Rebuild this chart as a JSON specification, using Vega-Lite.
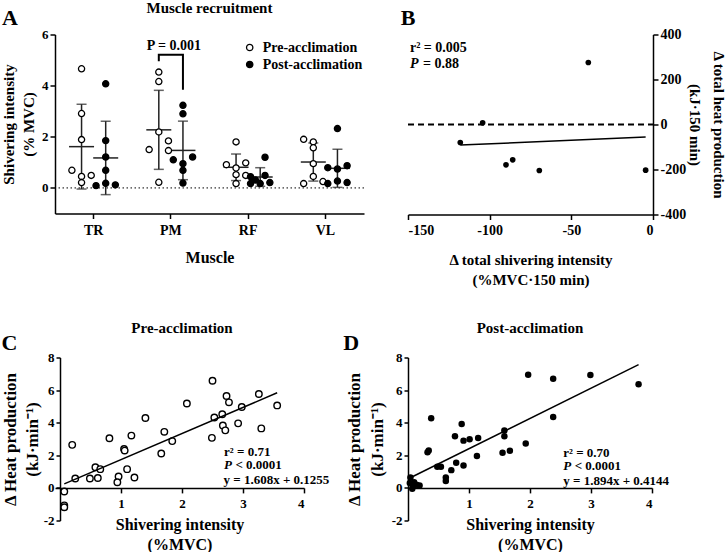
{
  "$schema": "https://vega.github.io/schema/vega-lite/v6.json",
  "background": "white",
  "padding": {"left": 55, "top": 34.5, "right": 670, "bottom": 517.5},
  "autosize": {"type": "none"},
  "config": {
    "font": "Liberation Serif",
    "view": {"stroke": null},
    "axis": {
      "labelFont": "Liberation Serif", "labelFontWeight": "bold", "labelFontSize": 14, "labelColor": "black",
      "titleFont": "Liberation Serif", "titleFontWeight": "bold", "titleFontSize": 16, "titleColor": "black",
      "domainColor": "black", "domainWidth": 1.5, "tickColor": "black", "tickWidth": 1.5, "tickSize": 5, "grid": false, "labelPadding": 2
    },
    "text": {"font": "Liberation Serif", "fontWeight": "bold", "fontSize": 13, "color": "black"}
  },
  "datasets": {
    "musc": [
      {"muscle": "TR", "group": "Pre-acclimation", "slot": "Pre-acclimation", "v": 4.66},
      {"muscle": "TR", "group": "Pre-acclimation", "slot": "Pre-acclimation", "v": 2.91},
      {"muscle": "TR", "group": "Pre-acclimation", "slot": "Pre-acclimation", "v": 1.89},
      {"muscle": "TR", "group": "Pre-acclimation", "slot": "Pre L2", "v": 0.69},
      {"muscle": "TR", "group": "Pre-acclimation", "slot": "Pre-acclimation", "v": 0.45},
      {"muscle": "TR", "group": "Pre-acclimation", "slot": "Pre R2", "v": 0.49},
      {"muscle": "TR", "group": "Pre-acclimation", "slot": "Pre-acclimation", "v": 0.21},
      {"muscle": "TR", "group": "Post-acclimation", "slot": "Post-acclimation", "v": 4.07},
      {"muscle": "TR", "group": "Post-acclimation", "slot": "Post-acclimation", "v": 1.85},
      {"muscle": "TR", "group": "Post-acclimation", "slot": "Post-acclimation", "v": 1.21},
      {"muscle": "TR", "group": "Post-acclimation", "slot": "Post-acclimation", "v": 0.69},
      {"muscle": "TR", "group": "Post-acclimation", "slot": "Post-acclimation", "v": 0.18},
      {"muscle": "TR", "group": "Post-acclimation", "slot": "Post L2", "v": 0.09},
      {"muscle": "TR", "group": "Post-acclimation", "slot": "Post R2", "v": 0.12},
      {"muscle": "PM", "group": "Pre-acclimation", "slot": "Pre-acclimation", "v": 4.53},
      {"muscle": "PM", "group": "Pre-acclimation", "slot": "Pre-acclimation", "v": 4.16},
      {"muscle": "PM", "group": "Pre-acclimation", "slot": "Pre-acclimation", "v": 2.19},
      {"muscle": "PM", "group": "Pre-acclimation", "slot": "Pre L2", "v": 1.5},
      {"muscle": "PM", "group": "Pre-acclimation", "slot": "Pre R2", "v": 1.84},
      {"muscle": "PM", "group": "Pre-acclimation", "slot": "Pre R2", "v": 1.46},
      {"muscle": "PM", "group": "Pre-acclimation", "slot": "Pre-acclimation", "v": 0.22},
      {"muscle": "PM", "group": "Post-acclimation", "slot": "Post-acclimation", "v": 3.23},
      {"muscle": "PM", "group": "Post-acclimation", "slot": "Post-acclimation", "v": 2.9},
      {"muscle": "PM", "group": "Post-acclimation", "slot": "Post L2", "v": 1.1},
      {"muscle": "PM", "group": "Post-acclimation", "slot": "Post-acclimation", "v": 0.95},
      {"muscle": "PM", "group": "Post-acclimation", "slot": "Post-acclimation", "v": 0.69},
      {"muscle": "PM", "group": "Post-acclimation", "slot": "Post-acclimation", "v": 0.19},
      {"muscle": "PM", "group": "Post-acclimation", "slot": "Post R2", "v": 1.21},
      {"muscle": "RF", "group": "Pre-acclimation", "slot": "Pre-acclimation", "v": 1.8},
      {"muscle": "RF", "group": "Pre-acclimation", "slot": "Pre L2", "v": 0.91},
      {"muscle": "RF", "group": "Pre-acclimation", "slot": "Pre-acclimation", "v": 0.78},
      {"muscle": "RF", "group": "Pre-acclimation", "slot": "Pre R2", "v": 0.98},
      {"muscle": "RF", "group": "Pre-acclimation", "slot": "Pre-acclimation", "v": 0.52},
      {"muscle": "RF", "group": "Pre-acclimation", "slot": "Pre R2", "v": 0.49},
      {"muscle": "RF", "group": "Pre-acclimation", "slot": "Pre-acclimation", "v": 0.17},
      {"muscle": "RF", "group": "Post-acclimation", "slot": "Post R1", "v": 1.2},
      {"muscle": "RF", "group": "Post-acclimation", "slot": "Post L2", "v": 0.44},
      {"muscle": "RF", "group": "Post-acclimation", "slot": "Post L1", "v": 0.31},
      {"muscle": "RF", "group": "Post-acclimation", "slot": "Post R1", "v": 0.49},
      {"muscle": "RF", "group": "Post-acclimation", "slot": "Post L2", "v": 0.17},
      {"muscle": "RF", "group": "Post-acclimation", "slot": "Post-acclimation", "v": 0.17},
      {"muscle": "RF", "group": "Post-acclimation", "slot": "Post R2", "v": 0.21},
      {"muscle": "VL", "group": "Pre-acclimation", "slot": "Pre L2", "v": 1.9},
      {"muscle": "VL", "group": "Pre-acclimation", "slot": "Pre-acclimation", "v": 1.8},
      {"muscle": "VL", "group": "Pre-acclimation", "slot": "Pre-acclimation", "v": 1.57},
      {"muscle": "VL", "group": "Pre-acclimation", "slot": "Pre-acclimation", "v": 0.95},
      {"muscle": "VL", "group": "Pre-acclimation", "slot": "Pre-acclimation", "v": 0.45},
      {"muscle": "VL", "group": "Pre-acclimation", "slot": "Pre L2", "v": 0.17},
      {"muscle": "VL", "group": "Pre-acclimation", "slot": "Pre R2", "v": 0.25},
      {"muscle": "VL", "group": "Post-acclimation", "slot": "Post-acclimation", "v": 2.32},
      {"muscle": "VL", "group": "Post-acclimation", "slot": "Post L2", "v": 0.79},
      {"muscle": "VL", "group": "Post-acclimation", "slot": "Post-acclimation", "v": 0.74},
      {"muscle": "VL", "group": "Post-acclimation", "slot": "Post R2", "v": 0.87},
      {"muscle": "VL", "group": "Post-acclimation", "slot": "Post-acclimation", "v": 0.27},
      {"muscle": "VL", "group": "Post-acclimation", "slot": "Post L2", "v": 0.17},
      {"muscle": "VL", "group": "Post-acclimation", "slot": "Post R2", "v": 0.21}
    ],
    "bd": [
      {"dx": -39.6, "dy": 275.6},
      {"dx": -104.3, "dy": 7.4},
      {"dx": -118, "dy": -80},
      {"dx": -90, "dy": -179.3},
      {"dx": -85.9, "dy": -157},
      {"dx": -69.6, "dy": -204.4},
      {"dx": -4.5, "dy": -203}
    ],
    "cd": [
      {"sx": 0.07, "hp": -0.22}, {"sx": 0.07, "hp": -1.07}, {"sx": 0.07, "hp": -1.19},
      {"sx": 0.2, "hp": 2.64}, {"sx": 0.25, "hp": 0.58}, {"sx": 0.49, "hp": 0.58},
      {"sx": 0.58, "hp": 1.27}, {"sx": 0.62, "hp": 0.61}, {"sx": 0.66, "hp": 1.15},
      {"sx": 0.81, "hp": 3.05}, {"sx": 0.96, "hp": 0.7}, {"sx": 0.94, "hp": 0.35},
      {"sx": 1.05, "hp": 2.39}, {"sx": 1.06, "hp": 2.29}, {"sx": 1.1, "hp": 1.15},
      {"sx": 1.17, "hp": 3.21}, {"sx": 1.22, "hp": 0.64}, {"sx": 1.4, "hp": 4.29},
      {"sx": 1.66, "hp": 2.11}, {"sx": 1.71, "hp": 3.44}, {"sx": 1.84, "hp": 2.87},
      {"sx": 2.08, "hp": 5.18}, {"sx": 2.5, "hp": 6.57}, {"sx": 2.49, "hp": 3.07},
      {"sx": 2.53, "hp": 4.32}, {"sx": 2.66, "hp": 4.52}, {"sx": 2.67, "hp": 3.83},
      {"sx": 2.71, "hp": 3.53}, {"sx": 2.73, "hp": 5.64}, {"sx": 2.77, "hp": 5.25},
      {"sx": 2.92, "hp": 3.96}, {"sx": 2.98, "hp": 4.96}, {"sx": 3.26, "hp": 5.76},
      {"sx": 3.3, "hp": 3.65}, {"sx": 3.56, "hp": 5.06}
    ],
    "dd": [
      {"sx": 0.04, "hp": 0.64}, {"sx": 0.03, "hp": 0.3}, {"sx": 0.07, "hp": -0.05},
      {"sx": 0.1, "hp": 0.35}, {"sx": 0.14, "hp": 0.2}, {"sx": 0.19, "hp": 0.15},
      {"sx": 0.08, "hp": 0.1}, {"sx": 0.32, "hp": 2.19}, {"sx": 0.34, "hp": 2.29},
      {"sx": 0.38, "hp": 4.28}, {"sx": 0.48, "hp": 1.3}, {"sx": 0.54, "hp": 1.3},
      {"sx": 0.62, "hp": 0.64}, {"sx": 0.62, "hp": 0.43}, {"sx": 0.71, "hp": 1.09},
      {"sx": 0.77, "hp": 3.17}, {"sx": 0.79, "hp": 1.54}, {"sx": 0.88, "hp": 3.92},
      {"sx": 0.91, "hp": 2.9}, {"sx": 0.91, "hp": 1.38}, {"sx": 1.01, "hp": 2.98},
      {"sx": 1.15, "hp": 3.06}, {"sx": 1.13, "hp": 1.95}, {"sx": 1.55, "hp": 2.16},
      {"sx": 1.58, "hp": 3.52}, {"sx": 1.58, "hp": 3.17}, {"sx": 1.67, "hp": 2.28},
      {"sx": 1.93, "hp": 2.73}, {"sx": 1.97, "hp": 6.94}, {"sx": 2.38, "hp": 6.69},
      {"sx": 2.38, "hp": 4.35}, {"sx": 2.99, "hp": 6.92}, {"sx": 3.78, "hp": 6.36}
    ]
  },
  "concat": [
    {
      "width": 309, "height": 179,
      "layer": [
        {
          "data": {"values": [{"v": 0}]},
          "mark": {"type": "rule", "strokeDash": [1.5, 2.5], "strokeWidth": 1, "color": "black"},
          "encoding": {"y": {"field": "v", "type": "quantitative", "scale": {"domain": [-1, 6], "nice": false}}}
        },
        {
          "data": {"name": "musc"},
          "encoding": {
            "x": {"field": "muscle", "type": "nominal", "title": "Muscle",
              "scale": {"domain": ["TR", "PM", "RF", "VL"], "paddingInner": 0, "paddingOuter": 0},
              "axis": {"labelAngle": 0, "labelPadding": 5, "titlePadding": 12, "titleFontSize": 16}},
            "xOffset": {"field": "group", "type": "nominal",
              "scale": {"domain": ["e1", "e2", "e3", "Pre L2", "Pre L1", "Pre-acclimation", "Pre R1", "Pre R2", "Post L2", "Post L1", "Post-acclimation", "Post R1", "Post R2", "e4", "e5", "e6"], "paddingInner": 0, "paddingOuter": 0}},
            "y": {"field": "v", "type": "quantitative", "title": ["Shivering intensity", "(% MVC)"],
              "scale": {"domain": [-1, 6], "nice": false},
              "axis": {"values": [0, 2, 4, 6], "labelFontSize": 13, "titleFontSize": 15, "titleLineHeight": 20, "titlePadding": 5.5}}
          },
          "layer": [
            {"mark": {"type": "errorbar", "extent": "stdev", "thickness": 1.5, "color": "#222222", "ticks": {"size": 10}}},
            {"mark": {"type": "tick", "size": 25, "thickness": 1.5, "color": "#222222"},
             "encoding": {"y": {"aggregate": "mean", "field": "v", "type": "quantitative"}}},
            {"mark": {"type": "circle", "size": 38, "stroke": "black", "strokeWidth": 1.3, "opacity": 1},
             "encoding": {
               "xOffset": {"field": "slot", "type": "nominal"},
               "fill": {"field": "group", "type": "nominal",
                 "scale": {"domain": ["Pre-acclimation", "Post-acclimation"], "range": ["white", "black"]},
                 "legend": {"orient": "none", "legendX": 187.7, "legendY": 6, "title": null, "padding": 0,
                   "labelFont": "Liberation Serif", "labelFontWeight": "bold", "labelFontSize": 14, "labelColor": "black",
                   "symbolType": "circle", "symbolSize": 40, "symbolStrokeColor": "black", "symbolStrokeWidth": 1.3,
                   "rowPadding": 3, "labelOffset": 6}}
             }},
            {"data": {"values": [
                {"muscle": "PM", "group": "Pre-acclimation", "v": 4.95, "o": 1},
                {"muscle": "PM", "group": "Pre-acclimation", "v": 5.21, "o": 2},
                {"muscle": "PM", "group": "Post-acclimation", "v": 5.21, "o": 3},
                {"muscle": "PM", "group": "Post-acclimation", "v": 3.84, "o": 4}
              ]},
             "mark": {"type": "line", "strokeWidth": 2, "color": "black", "strokeJoin": "miter"},
             "encoding": {"order": {"field": "o", "type": "quantitative"}}}
          ]
        },
        {
          "data": {"values": [{"px": 0.5, "v": 6.83, "t": "Muscle recruitment"}]},
          "mark": {"type": "text", "align": "center", "baseline": "alphabetic", "fontSize": 15, "fontWeight": "bold"},
          "encoding": {
            "x": {"field": "px", "type": "quantitative", "scale": {"domain": [0, 1]}, "axis": null},
            "y": {"field": "v", "type": "quantitative", "scale": {"domain": [-1, 6], "nice": false}},
            "text": {"field": "t"}
          }
        },
        {
          "data": {"values": [{"px": 0.385, "v": 5.39, "t": "P = 0.001"}]},
          "mark": {"type": "text", "align": "center", "baseline": "alphabetic", "fontSize": 14, "fontWeight": "bold"},
          "encoding": {
            "x": {"field": "px", "type": "quantitative", "scale": {"domain": [0, 1]}, "axis": null},
            "y": {"field": "v", "type": "quantitative", "scale": {"domain": [-1, 6], "nice": false}},
            "text": {"field": "t"}
          }
        },
        {
          "data": {"values": [{"px": -0.146, "v": 6.37, "t": "A"}]},
          "mark": {"type": "text", "align": "center", "baseline": "alphabetic", "fontSize": 22, "fontWeight": "bold"},
          "encoding": {
            "x": {"field": "px", "type": "quantitative", "scale": {"domain": [0, 1]}, "axis": null},
            "y": {"field": "v", "type": "quantitative", "scale": {"domain": [-1, 6], "nice": false}},
            "text": {"field": "t"}
          }
        }
      ],
      "resolve": {"scale": {"x": "independent"}}
    },
    {
      "width": 245, "height": 180,
      "encoding": {
        "x": {"field": "dx", "type": "quantitative", "title": ["Δ total shivering intensity", "(%MVC·150 min)"],
          "scale": {"domain": [-150, 0], "nice": false},
          "axis": {"values": [-150, -100, -50, 0], "labelExpr": "'' + datum.value", "titleFontSize": 15, "titleLineHeight": 20, "labelPadding": 4, "titlePadding": 15}},
        "y": {"field": "dy", "type": "quantitative", "title": ["Δ total heat production", "(kJ·150 min)"],
          "scale": {"domain": [-400, 400], "nice": false},
          "axis": {"orient": "right", "values": [-400, -200, 0, 200, 400], "labelExpr": "'' + datum.value", "titleFontSize": 15, "titleLineHeight": 24, "titlePadding": 1}}
      },
      "layer": [
        {
          "data": {"values": [{"dx": -150, "dy": 0}, {"dx": 0, "dy": 0}]},
          "mark": {"type": "line", "strokeDash": [6, 4], "strokeWidth": 2, "color": "black"}
        },
        {
          "data": {"name": "bd"},
          "mark": {"type": "circle", "size": 32, "color": "black", "opacity": 1}
        },
        {
          "data": {"name": "bd"},
          "transform": [{"regression": "dy", "on": "dx"}],
          "mark": {"type": "line", "strokeWidth": 1.5, "color": "black"}
        },
        {
          "data": {"values": [{"dx": -148.8, "dy": 320.9, "t": "r² = 0.005"}, {"dx": -140.8, "dy": 249.8, "t": "=  0.88"}]},
          "mark": {"type": "text", "align": "left", "baseline": "alphabetic", "fontSize": 14, "fontWeight": "bold"},
          "encoding": {"text": {"field": "t"}}
        },
        {
          "data": {"values": [{"dx": -148.8, "dy": 249.8, "t": "P"}]},
          "mark": {"type": "text", "align": "left", "baseline": "alphabetic", "fontSize": 14, "fontWeight": "bold", "fontStyle": "italic"},
          "encoding": {"text": {"field": "t"}}
        },
        {
          "data": {"values": [{"dx": -150, "dy": 442, "t": "B"}]},
          "mark": {"type": "text", "align": "center", "baseline": "alphabetic", "fontSize": 22, "fontWeight": "bold"},
          "encoding": {"text": {"field": "t"}}
        }
      ]
    },
    {
      "width": 249, "height": 163,
      "encoding": {
        "x": {"field": "sx", "type": "quantitative", "title": ["Shivering intensity", "(%MVC)"],
          "scale": {"domain": [-0.0822, 4], "nice": false, "zero": false},
          "axis": {"values": [1, 2, 3, 4], "offset": -32.6, "titleFontSize": 16, "titleLineHeight": 20, "labelFontSize": 13, "labelPadding": 5, "titlePadding": 6}},
        "y": {"field": "hp", "type": "quantitative", "title": ["Δ Heat production", "(kJ·min⁻¹)"],
          "scale": {"domain": [-2, 8], "nice": false},
          "axis": {"values": [-2, 0, 2, 4, 6, 8], "offset": -5, "tickSize": 4, "labelFontSize": 13, "labelExpr": "'' + datum.value", "titleFontSize": 17, "titleLineHeight": 22, "titlePadding": 2}}
      },
      "layer": [
        {
          "data": {"name": "cd"},
          "mark": {"type": "circle", "size": 42, "fill": "white", "stroke": "black", "strokeWidth": 1.4, "opacity": 1}
        },
        {
          "data": {"name": "cd"},
          "transform": [{"regression": "hp", "on": "sx"}],
          "mark": {"type": "line", "strokeWidth": 1.5, "color": "black"}
        },
        {
          "data": {"values": [{"sx": 2.69, "hp": 1.95, "t": "r² = 0.71"}, {"sx": 2.876, "hp": 1.13, "t": "< 0.0001"}, {"sx": 2.68, "hp": 0.21, "t": "y = 1.608x + 0.1255"}]},
          "mark": {"type": "text", "align": "left", "baseline": "alphabetic", "fontSize": 13, "fontWeight": "bold"},
          "encoding": {"text": {"field": "t"}}
        },
        {
          "data": {"values": [{"sx": 2.69, "hp": 1.13, "t": "P"}]},
          "mark": {"type": "text", "align": "left", "baseline": "alphabetic", "fontSize": 13, "fontWeight": "bold", "fontStyle": "italic"},
          "encoding": {"text": {"field": "t"}}
        },
        {
          "data": {"values": [{"sx": 2, "hp": 9.49, "t": "Pre-acclimation"}]},
          "mark": {"type": "text", "align": "center", "baseline": "alphabetic", "fontSize": 15, "fontWeight": "bold"},
          "encoding": {"text": {"field": "t"}}
        },
        {
          "data": {"values": [{"sx": -0.83, "hp": 8.45, "t": "C"}]},
          "mark": {"type": "text", "align": "center", "baseline": "alphabetic", "fontSize": 22, "fontWeight": "bold"},
          "encoding": {"text": {"field": "t"}}
        }
      ]
    },
    {
      "width": 244, "height": 163,
      "encoding": {
        "x": {"field": "sx", "type": "quantitative", "title": ["Shivering intensity", "(%MVC)"],
          "scale": {"domain": [0, 4], "nice": false},
          "axis": {"values": [1, 2, 3, 4], "offset": -32.6, "titleFontSize": 16, "titleLineHeight": 20, "labelFontSize": 13, "labelPadding": 5, "titlePadding": 6}},
        "y": {"field": "hp", "type": "quantitative", "title": ["Δ Heat production", "(kJ·min⁻¹)"],
          "scale": {"domain": [-2, 8], "nice": false},
          "axis": {"values": [-2, 0, 2, 4, 6, 8], "tickSize": 4, "labelFontSize": 13, "labelExpr": "'' + datum.value", "titleFontSize": 17, "titleLineHeight": 23, "titlePadding": 5}}
      },
      "layer": [
        {
          "data": {"name": "dd"},
          "mark": {"type": "circle", "size": 42, "color": "black", "opacity": 1}
        },
        {
          "data": {"name": "dd"},
          "transform": [{"regression": "hp", "on": "sx"}],
          "mark": {"type": "line", "strokeWidth": 1.5, "color": "black"}
        },
        {
          "data": {"values": [{"sx": 2.545, "hp": 1.91, "t": "r² = 0.70"}, {"sx": 2.733, "hp": 1.09, "t": "< 0.0001"}, {"sx": 2.545, "hp": 0.17, "t": "y = 1.894x + 0.4144"}]},
          "mark": {"type": "text", "align": "left", "baseline": "alphabetic", "fontSize": 13, "fontWeight": "bold"},
          "encoding": {"text": {"field": "t"}}
        },
        {
          "data": {"values": [{"sx": 2.545, "hp": 1.09, "t": "P"}]},
          "mark": {"type": "text", "align": "left", "baseline": "alphabetic", "fontSize": 13, "fontWeight": "bold", "fontStyle": "italic"},
          "encoding": {"text": {"field": "t"}}
        },
        {
          "data": {"values": [{"sx": 2, "hp": 9.49, "t": "Post-acclimation"}]},
          "mark": {"type": "text", "align": "center", "baseline": "alphabetic", "fontSize": 15, "fontWeight": "bold"},
          "encoding": {"text": {"field": "t"}}
        },
        {
          "data": {"values": [{"sx": -0.93, "hp": 8.45, "t": "D"}]},
          "mark": {"type": "text", "align": "center", "baseline": "alphabetic", "fontSize": 22, "fontWeight": "bold"},
          "encoding": {"text": {"field": "t"}}
        }
      ]
    }
  ],
  "columns": 2,
  "spacing": {"row": 143, "column": 44},
  "bounds": "flush"
}
